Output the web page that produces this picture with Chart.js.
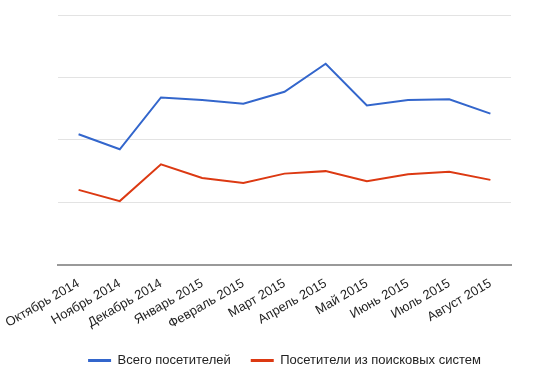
<!DOCTYPE html>
<html>
<head>
<meta charset="utf-8">
<script src="https://cdn.jsdelivr.net/npm/chart.js@4/dist/chart.umd.min.js"></script>
<style>
html,body{margin:0;padding:0;background:#fff;}
#wrap{width:560px;height:385px;position:relative;}
</style>
</head>
<body>
<div id="wrap"><canvas id="c" width="560" height="385"></canvas></div>
<script>
const categories = ["Октябрь 2014","Ноябрь 2014","Декабрь 2014","Январь 2015","Февраль 2015","Март 2015","Апрель 2015","Май 2015","Июнь 2015","Июль 2015","Август 2015"];
const seriesNames = ["Всего посетителей","Посетители из поисковых систем"];
const totalVisitors = [209,185,268,264,258,277,322,255,264,265,242];
const searchVisitors = [120,102,161,139,131,146,150,134,145,149,136];
const yTicks = [0,100,200,300,400];

Chart.defaults.font.family = "'Liberation Sans', Arial, sans-serif";
Chart.defaults.font.size = 13;
Chart.defaults.color = "#222";

new Chart(document.getElementById('c'), {
  type: 'line',
  data: {
    labels: categories,
    datasets: [
      {label: seriesNames[0], data: totalVisitors, borderColor: '#3366cc', backgroundColor: '#3366cc', borderWidth: 2, pointRadius: 0, tension: 0},
      {label: seriesNames[1], data: searchVisitors, borderColor: '#dc3912', backgroundColor: '#dc3912', borderWidth: 2, pointRadius: 0, tension: 0}
    ]
  },
  options: {
    responsive: false,
    animation: false,
    layout: {padding: {left: 58, right: 49, top: 15, bottom: 8}},
    plugins: {
      legend: {
        position: 'bottom',
        labels: {
          boxWidth: 23, boxHeight: 3, padding: 20, color: '#222', font: {size: 13},
          generateLabels: (chart) => Chart.defaults.plugins.legend.labels.generateLabels(chart).map(l => Object.assign(l, {lineWidth: 0}))
        }
      },
      tooltip: {enabled: false}
    },
    scales: {
      x: {
        offset: true,
        grid: {display: false, drawTicks: false},
        border: {display: true, color: '#999', width: 2},
        ticks: {minRotation: 30, maxRotation: 30, autoSkip: false, padding: 11, color: '#222', font: {size: 13}},
        afterFit: (s) => { s.height -= 9; s.paddingLeft = 0; s.paddingRight = 0; }
      },
      y: {
        min: yTicks[0], max: yTicks[yTicks.length-1],
        afterBuildTicks: (s) => { s.ticks = yTicks.map(v => ({value: v})); },
        ticks: {display: false},
        grid: {color: (ctx) => ctx.tick && ctx.tick.value === 0 ? 'rgba(0,0,0,0)' : '#e3e3e3', lineWidth: 1, drawTicks: false},
        border: {display: false}
      }
    }
  }
});
</script>
</body>
</html>
